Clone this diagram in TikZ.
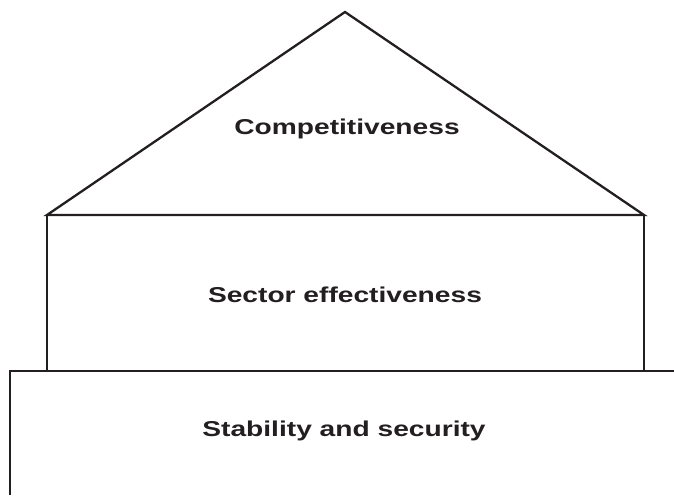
\documentclass[tikz,border=0pt]{standalone}
\usepackage{fontspec}
\setmainfont{Liberation Sans}
\newfontfamily\widebold[FakeStretch=1.31]{Liberation Sans Bold}
\definecolor{ink}{HTML}{231F20}
\begin{document}
\begin{tikzpicture}[x=1pt,y=1pt,
  wall/.style={line width=2.3pt, draw=ink, line join=miter},
  label/.style={font=\widebold\fontsize{21.5}{26}\selectfont, text=ink, anchor=base, inner sep=0pt}]
\useasboundingbox (0,0) rectangle (674,495);
% roof
\coordinate (apex) at (345,483);
\coordinate (eaveL) at (47,280);
\coordinate (eaveR) at (644,280);
\draw[wall] (eaveL) -- (apex) -- (eaveR) -- cycle;
% middle storey
\coordinate (floorL) at (47,124);
\coordinate (floorR) at (644,124);
\draw[wall] (eaveL) -- (floorL) (eaveR) -- (floorR);
% foundation
\coordinate (baseTR) at (674,124);
\coordinate (baseTL) at (10,124);
\coordinate (baseBL) at (10,0);
\draw[wall] (baseTR) -- (baseTL) -- (baseBL);
% labels
\node[label] (roof) at (347,360.5) {Competitiveness};
\node[label] (mid) at (345,192.3) {Sector effectiveness};
\node[label] (base) at (344,58.3) {Stability and security};
\end{tikzpicture}
\end{document}
